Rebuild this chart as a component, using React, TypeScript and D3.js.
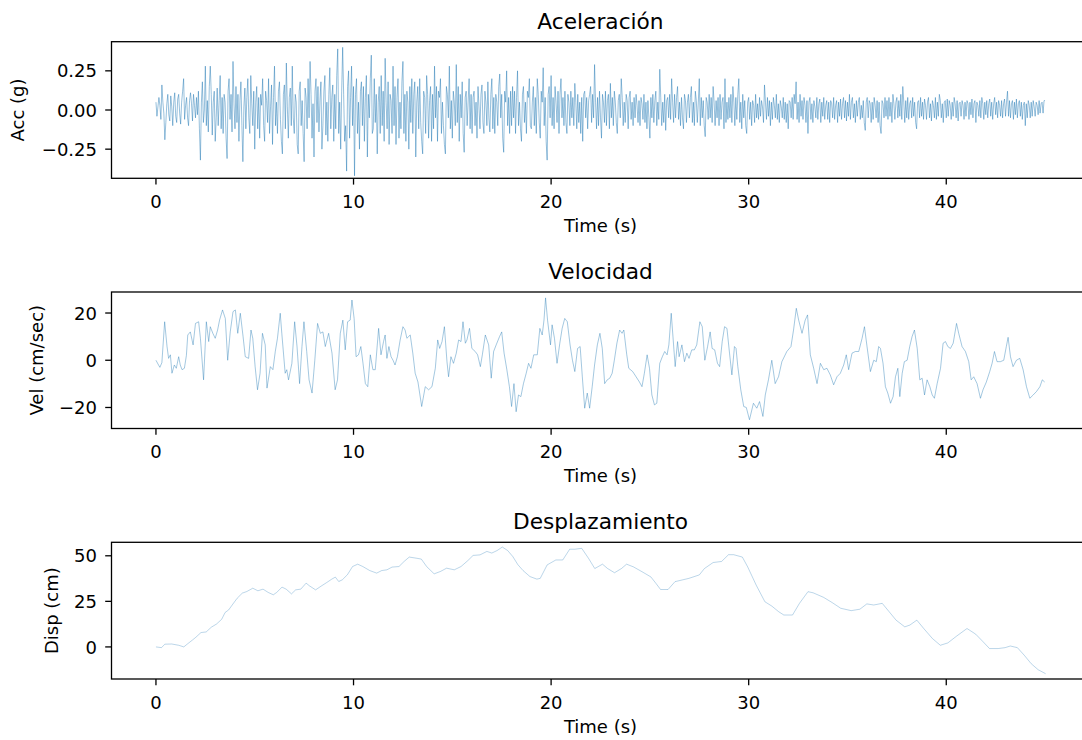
import React from 'react';
import * as d3 from 'd3';

const timeTicks = [0, 10, 20, 30, 40];
const accTicks = [-0.25, 0, 0.25];
const velTicks = [-20, 0, 20];
const dispTicks = [0, 25, 50];

const accDt = 0.05;
const accValues = [
  0.05, -0.04, 0.02, 0.08, 0.03, -0.06, 0.16, 0.05, -0.02, -0.19, -0.08, 0.04, 0.1, -0.03, -0.07, 0.09, 0.02, -0.1, 0.05, 0.11,
  -0.04, -0.08, 0.07, 0.1, -0.02, -0.09, 0.05, 0.12, 0.2, -0.06, 0.03, 0.08, -0.05, -0.1, 0.06, 0.11, 0.04, -0.07, 0.1, 0.03,
  -0.05, 0.08, -0.03, 0.12, -0.12, -0.32, 0.05, 0.18, -0.08, 0.0, 0.28, -0.1, 0.06, -0.14, 0.15, 0.28, 0.1, -0.16, 0.05, 0.12,
  -0.2, -0.05, 0.14, -0.1, 0.06, 0.22, -0.12, 0.08, -0.15, 0.1, 0.05, -0.18, -0.31, 0.12, 0.2, -0.06, 0.1, -0.14, 0.31, 0.04,
  -0.12, 0.15, -0.08, 0.1, -0.2, 0.06, 0.18, -0.1, -0.33, 0.02, 0.14, -0.12, 0.08, 0.2, -0.05, -0.15, 0.22, 0.04, -0.1, 0.12,
  -0.25, 0.05, 0.15, -0.12, 0.08, -0.18, 0.1, 0.03, 0.2, -0.1, -0.2, 0.12, 0.06, -0.08, 0.2, -0.15, 0.02, 0.16, -0.22, 0.08,
  0.28, -0.1, 0.05, -0.15, 0.12, 0.18, -0.06, -0.2, -0.28, 0.1, 0.16, -0.12, 0.3, 0.02, -0.18, 0.08, 0.14, -0.1, 0.28, -0.05,
  -0.15, 0.1, 0.05, -0.22, -0.28, 0.12, 0.18, -0.1, 0.06, -0.15, -0.33, 0.14, 0.08, -0.12, 0.2, -0.05, 0.31, 0.1, -0.18, 0.04,
  -0.3, 0.12, 0.2, -0.08, 0.15, -0.14, 0.06, 0.18, -0.25, -0.1, 0.12, 0.22, -0.16, 0.05, -0.2, 0.1, 0.27, -0.12, 0.08, 0.16,
  -0.2, 0.1, -0.12, 0.22, 0.39, -0.15, 0.05, -0.25, 0.12, 0.4, 0.1, -0.2, -0.1, -0.39, 0.15, 0.25, -0.18, 0.08, 0.28, -0.1,
  0.15, -0.42, 0.1, 0.2, -0.15, 0.05, -0.25, 0.12, 0.18, -0.1, 0.15, -0.2, 0.08, 0.22, -0.3, 0.1, -0.05, 0.2, 0.35, -0.15,
  -0.12, 0.2, -0.08, 0.1, -0.28, 0.05, 0.15, -0.15, 0.22, -0.1, 0.12, -0.2, 0.33, 0.05, -0.12, 0.18, -0.22, 0.1, 0.06, -0.15,
  0.28, -0.1, 0.15, -0.22, 0.08, 0.2, -0.18, 0.05, -0.12, 0.18, 0.31, -0.15, 0.1, -0.2, 0.12, 0.05, -0.25, 0.15, -0.08, 0.2,
  -0.15, 0.1, 0.18, -0.3, 0.05, 0.15, -0.12, 0.2, -0.08, -0.2, -0.28, 0.12, 0.08, -0.15, 0.22, 0.1, -0.18, 0.06, 0.15, -0.2,
  0.1, -0.12, 0.28, -0.05, 0.15, -0.2, 0.12, 0.08, 0.2, -0.15, 0.05, -0.1, -0.22, -0.28, 0.15, 0.1, -0.05, 0.28, -0.12, 0.06,
  -0.18, 0.12, 0.05, -0.1, 0.29, -0.08, 0.15, -0.2, 0.1, -0.05, 0.18, -0.15, -0.27, 0.08, 0.12, -0.1, 0.05, 0.2, -0.12, 0.1,
  -0.15, 0.08, 0.12, -0.1, 0.05, -0.18, 0.15, 0.02, -0.12, 0.1, 0.16, -0.08, -0.15, 0.12, 0.05, -0.1, 0.18, -0.05, -0.14, 0.1,
  0.2, -0.12, 0.08, -0.15, 0.1, 0.05, -0.1, 0.15, 0.23, -0.05, 0.1, -0.18, -0.27, 0.12, 0.05, 0.25, -0.1, 0.08, -0.15, 0.12,
  -0.1, 0.15, -0.05, 0.12, -0.15, 0.08, 0.25, -0.1, 0.05, -0.12, -0.2, 0.1, 0.15, -0.08, 0.05, -0.15, 0.12, 0.08, 0.2, -0.1,
  -0.12, 0.05, 0.15, -0.1, 0.08, -0.15, 0.2, 0.1, -0.08, -0.18, 0.12, 0.05, 0.27, -0.1, 0.08, -0.2, -0.32, 0.1, 0.15, -0.05,
  0.22, -0.1, 0.08, -0.12, 0.15, 0.05, -0.08, 0.12, -0.15, 0.1, 0.2, -0.05, 0.08, -0.1, 0.12, -0.08, -0.15, 0.1, 0.05, -0.1,
  0.12, -0.05, 0.08, -0.1, 0.17, 0.05, -0.12, 0.1, -0.08, 0.05, -0.15, 0.08, -0.2, 0.1, 0.12, -0.05, 0.08, -0.12, 0.06, 0.1,
  0.15, -0.08, 0.1, -0.05, 0.29, 0.05, -0.12, 0.08, -0.1, 0.12, -0.05, -0.18, 0.1, 0.05, -0.08, 0.12, -0.1, 0.06, 0.1, -0.12,
  0.17, -0.05, 0.08, -0.1, 0.12, 0.05, -0.08, -0.15, 0.06, 0.1, -0.05, 0.2, 0.08, -0.1, 0.05, -0.08, 0.1, 0.06, -0.12, 0.08,
  0.12, -0.06, 0.05, -0.1, 0.08, -0.05, 0.1, 0.03, -0.08, 0.06, -0.1, 0.08, 0.04, -0.06, 0.1, -0.08, 0.05, -0.12, 0.06, -0.05,
  -0.18, 0.08, -0.05, 0.1, -0.08, 0.06, 0.12, -0.1, 0.05, -0.06, 0.26, 0.08, -0.1, 0.05, -0.08, 0.1, -0.13, 0.06, 0.08, -0.05,
  0.1, -0.06, 0.2, 0.05, -0.08, 0.1, -0.05, 0.08, 0.15, -0.06, 0.05, -0.1, 0.08, -0.05, -0.12, 0.1, 0.06, -0.08, 0.05, 0.1,
  -0.05, 0.08, 0.15, -0.08, 0.05, -0.1, 0.12, 0.06, -0.08, 0.05, 0.2, -0.1, 0.08, -0.05, 0.06, -0.1, -0.17, 0.08, 0.05, -0.06,
  0.1, -0.05, 0.08, -0.08, 0.15, 0.05, -0.1, 0.06, -0.05, 0.08, -0.1, 0.1, -0.06, 0.05, 0.08, -0.12, 0.2, -0.08, 0.05, -0.06,
  0.08, -0.05, 0.1, -0.08, 0.15, 0.05, -0.1, 0.08, -0.06, 0.1, 0.2, -0.08, 0.05, -0.12, 0.1, -0.05, 0.06, -0.1, -0.15, 0.05,
  0.08, -0.06, 0.05, -0.1, 0.06, 0.03, -0.08, 0.1, -0.05, 0.04, -0.06, 0.08, -0.04, 0.06, 0.02, -0.08, 0.16, 0.05, -0.06, 0.08,
  -0.04, 0.06, -0.1, 0.05, -0.06, 0.08, 0.03, -0.05, 0.1, -0.06, 0.04, -0.08, 0.06, 0.02, -0.05, 0.08, -0.06, 0.05, -0.08, 0.04,
  -0.12, 0.06, 0.05, -0.05, 0.08, -0.06, 0.1, 0.04, 0.18, -0.06, 0.05, -0.08, 0.1, -0.04, 0.06, -0.06, 0.08, 0.03, -0.08, 0.06,
  -0.15, 0.05, 0.08, -0.06, 0.04, -0.08, 0.06, 0.02, -0.05, 0.08, -0.06, 0.04, 0.07, -0.08, 0.05, -0.04, 0.08, -0.06, 0.03, 0.06,
  -0.06, 0.05, -0.08, 0.06, 0.04, -0.05, 0.08, -0.06, 0.03, 0.06, -0.08, 0.05, -0.04, 0.07, -0.06, 0.04, 0.08, -0.05, 0.06, -0.07,
  0.05, -0.04, 0.1, -0.06, 0.05, 0.08, -0.05, 0.04, -0.08, 0.06, -0.04, 0.05, 0.08, -0.06, 0.03, -0.05, 0.06, -0.08, -0.13, 0.05,
  0.08, -0.05, 0.06, 0.04, -0.08, 0.05, -0.06, 0.08, 0.03, -0.05, 0.06, -0.08, 0.05, -0.1, -0.15, 0.06, 0.04, -0.05, 0.08, -0.04,
  0.06, -0.06, 0.08, -0.04, 0.05, -0.08, 0.1, 0.04, -0.06, 0.05, 0.08, -0.05, 0.06, -0.04, 0.1, -0.06, 0.15, 0.05, -0.08, 0.06,
  -0.05, 0.08, -0.06, 0.04, 0.06, -0.05, 0.08, -0.04, 0.05, -0.08, -0.12, 0.05, 0.06, -0.05, 0.08, -0.04, 0.05, -0.06, 0.07, 0.03,
  -0.06, 0.05, 0.08, -0.05, 0.04, -0.07, 0.06, 0.03, -0.05, 0.08, -0.06, 0.05, -0.04, 0.1, 0.06, -0.05, 0.04, -0.08, 0.05, 0.06,
  -0.05, 0.07, -0.04, 0.06, 0.03, -0.06, 0.05, -0.04, 0.08, 0.04, -0.05, 0.06, -0.07, 0.04, 0.05, -0.04, 0.06, 0.03, -0.06, 0.05,
  -0.04, 0.06, 0.04, -0.06, 0.05, -0.03, 0.07, -0.05, 0.04, 0.06, -0.08, 0.05, 0.03, -0.04, 0.06, -0.05, 0.08, 0.04, -0.06, 0.05,
  -0.03, 0.06, -0.05, 0.04, 0.07, -0.04, 0.05, -0.06, 0.04, 0.08, -0.03, 0.05, -0.05, 0.06, 0.03, -0.04, 0.06, -0.05, 0.04, 0.07,
  -0.04, 0.05, 0.12, -0.04, 0.06, -0.05, 0.04, 0.06, -0.06, 0.05, -0.03, 0.07, -0.05, 0.04, 0.06, -0.04, 0.05, -0.06, 0.03, 0.05,
  -0.1, 0.04, -0.05, 0.06, 0.03, -0.05, 0.05, -0.04, 0.06, 0.02, -0.04, 0.05, 0.03, -0.03, 0.06, -0.02, 0.04, 0.05, -0.02, 0.06,
  0.06,
];

const velTime = [
  0, 0.13, 0.2, 0.3, 0.44, 0.56, 0.64, 0.73, 0.81, 0.93, 1.03, 1.15, 1.23, 1.32, 1.44, 1.54, 1.61, 1.74, 1.88, 2.0,
  2.16, 2.25, 2.41, 2.55, 2.67, 2.75, 2.88, 3.0, 3.12, 3.22, 3.37, 3.51, 3.63, 3.76, 3.9, 4.02, 4.14, 4.27, 4.41, 4.52,
  4.69, 4.81, 4.9, 5.02, 5.14, 5.27, 5.39, 5.53, 5.62, 5.79, 5.92, 6.04, 6.15, 6.29, 6.37, 6.54, 6.62, 6.71, 6.88, 7.02,
  7.14, 7.27, 7.39, 7.49, 7.63, 7.75, 7.9, 8.04, 8.18, 8.32, 8.45, 8.57, 8.74, 8.91, 9.07, 9.19, 9.33, 9.46, 9.58, 9.7,
  9.83, 9.92, 10.03, 10.13, 10.25, 10.37, 10.48, 10.6, 10.72, 10.85, 10.98, 11.1, 11.27, 11.39, 11.52, 11.6, 11.69, 11.79, 11.9, 12.0,
  12.1, 12.22, 12.36, 12.5, 12.61, 12.7, 12.87, 13.0, 13.12, 13.26, 13.45, 13.63, 13.8, 13.97, 14.14, 14.26, 14.36, 14.48, 14.6, 14.73,
  14.81, 14.93, 15.06, 15.2, 15.32, 15.44, 15.54, 15.66, 15.74, 15.87, 15.99, 16.16, 16.28, 16.42, 16.52, 16.67, 16.84, 16.97, 17.09, 17.22,
  17.39, 17.5, 17.62, 17.76, 17.89, 18.0, 18.12, 18.23, 18.35, 18.47, 18.6, 18.74, 18.86, 18.98, 19.12, 19.3, 19.43, 19.55, 19.64, 19.72,
  19.82, 19.97, 20.05, 20.17, 20.3, 20.44, 20.56, 20.69, 20.82, 20.96, 21.08, 21.2, 21.34, 21.47, 21.58, 21.7, 21.83, 21.95, 22.08, 22.2,
  22.34, 22.47, 22.59, 22.71, 22.84, 22.97, 23.09, 23.2, 23.33, 23.47, 23.59, 23.68, 23.83, 23.93, 24.13, 24.3, 24.47, 24.6, 24.72, 24.86,
  24.98, 25.1, 25.23, 25.35, 25.5, 25.63, 25.75, 25.87, 25.96, 26.08, 26.18, 26.28, 26.4, 26.48, 26.62, 26.75, 26.87, 26.98, 27.12, 27.25,
  27.37, 27.53, 27.65, 27.78, 27.92, 28.05, 28.15, 28.28, 28.42, 28.53, 28.66, 28.78, 28.9, 29.03, 29.15, 29.28, 29.36, 29.45, 29.6, 29.75,
  29.88, 30.04, 30.24, 30.41, 30.55, 30.72, 30.84, 31.0, 31.17, 31.34, 31.51, 31.68, 31.93, 32.14, 32.27, 32.41, 32.53, 32.7, 32.86, 32.98,
  33.12, 33.29, 33.46, 33.63, 33.8, 33.96, 34.13, 34.3, 34.47, 34.64, 34.81, 34.94, 35.06, 35.23, 35.4, 35.57, 35.74, 35.86, 35.99, 36.16,
  36.33, 36.46, 36.58, 36.67, 36.8, 36.92, 37.04, 37.18, 37.31, 37.43, 37.55, 37.65, 37.77, 37.88, 38.02, 38.15, 38.27, 38.39, 38.53, 38.66,
  38.78, 38.9, 39.03, 39.17, 39.29, 39.4, 39.54, 39.71, 39.84, 39.96, 40.08, 40.21, 40.35, 40.52, 40.63, 40.8, 40.97, 41.14, 41.26, 41.39,
  41.56, 41.73, 41.86, 42.03, 42.2, 42.32, 42.44, 42.57, 42.74, 42.91, 43.04, 43.13, 43.25, 43.38, 43.55, 43.72, 43.89, 44.06, 44.23, 44.4,
  44.57, 44.74, 44.86, 44.98,
];
const velValues = [
  0, -2, -3, -1, 16.3, 5.8, 0.8, 2.3, -5.5, -2, -3.4, 1.5, -2, -4, -3.4, 2, 10.7, 12, 6.5, 15.6,
  16.3, 9.3, -8.3, 16.3, 7.9, 14.2, 11.4, 9.3, 12.8, 17, 21.3, 17.7, 0, 12, 20.6, 21.3, 11.4, 19.9, 10, 1.5,
  0.8, 12.8, 9.3, -2.7, -12.5, -5.5, 11.4, 6.5, -11.8, -2.7, -4, 3.7, 9.3, 19.9, 11.4, -5.5, -4, -8.3, -1.3, 16.3,
  5.8, -9.9, 5.8, 16.3, 3.7, -8.3, -13.9, 0, 15.6, 11.4, 12, 5.8, 11.4, 3, -12.5, -8.3, 11.4, 17, 4.4, 16.3,
  17, 25.5, 17.7, 1.5, 2.3, 5.8, -1.3, -9.9, -11.2, 2.3, -4, -4, 13.5, 2.3, 7.9, 10.7, 0.8, 5.8, 1.5, 0,
  -2, 1.5, 8.6, 14.2, 12.8, 9.3, 10.7, 3, -5.5, -9.2, -19.6, -11.2, -12.5, -11.2, -3.4, 8.6, 5, 7.9, 14.2, -0.6,
  -7, 1.5, -1.3, 3, 8.6, 7.9, 16.3, 7.2, 8.6, 13.5, 5, 3.7, 2.3, -2.7, 2.3, 10.7, 6.5, -7.6, 3.7, 6.5,
  10, 12, 3, -4, -11.2, -19.6, -9.9, -21.8, -14.7, -15.4, -9.9, -5.5, -1.3, -3.4, 2.3, 2.3, 13.5, 10.7, 17, 26.4,
  17, 6.5, 15, 9.3, -1.3, 7.2, 13.5, 17.7, 16.3, 6.5, 0, -4.8, 5, 5.8, -7, -20.3, -13.9, -20.3, -11.2, -2,
  6.5, 11.4, 5, -9.9, -8.3, -7.6, -5.5, 0, 7.2, 12.8, 11.4, 12.8, 2.3, -3.4, -4.8, -7, -9.2, -11.2, -5.5, 2.3,
  -3.4, -14.7, -18.9, -18.2, -1.3, 1.5, 3.7, 2.3, 6.5, 19.9, 8.6, -2.7, 7.9, 1.5, 6.5, -0.6, 3, 0.8, 4.4, 4.4,
  6.5, 16.3, 14.2, 0, 5.8, 12, 5, 4.4, -1.3, -2.7, 7.9, 14.2, 13.5, 3, -6.2, 5.8, 5, -2.7, -12.5, -19.6,
  -20, -25.2, -18.2, -20.3, -17.5, -23.8, -14.7, -8.3, 0, -9.9, -7, -0.6, 3.7, 5.8, 12.8, 22, 17, 11.4, 17, 19.2,
  2.3, -3.4, -9.9, -1.3, -4, -3.4, -6.2, -10.4, -7, -5.5, -2, 2.3, -4, 3, 3.7, 3.7, 9.3, 14.2, 5.8, -4.8,
  0, -0.6, 5.8, 5, -1.3, -11.2, -13.9, -18.2, -15.4, -7, -3.4, -15.4, -5.5, -0.6, 0, 5.8, 10, 12.8, 5, -8.3,
  -7.6, -14.7, -8.3, -11.2, -14.7, -16.1, -9.9, -3.4, 7.2, 7.9, 5.8, 5, 7.2, 15.6, 11.4, 5.8, 3.7, -0.6, -8.3, -7,
  -9.9, -16.1, -12.5, -9.2, -4.8, -1.3, 3.7, -0.6, -0.6, 0, 5.8, 9.7, 1.5, -2.7, 0, 0.8, -4, -11.2, -16.1, -14.7,
  -13.2, -11.2, -8.3, -9.2,
];

const dispTime = [
  0, 0.28, 0.45, 0.8, 1.15, 1.41, 1.59, 1.85, 2.02, 2.28, 2.54, 2.8, 3.07, 3.33, 3.5, 3.68, 3.9, 4.11, 4.37, 4.6,
  4.9, 5.16, 5.42, 5.68, 5.94, 6.11, 6.38, 6.59, 6.86, 7.07, 7.33, 7.6, 7.77, 8.08, 8.38, 8.64, 8.9, 9.08, 9.25, 9.43,
  9.69, 9.95, 10.21, 10.47, 10.82, 11.17, 11.43, 11.69, 11.95, 12.3, 12.56, 12.82, 13.17, 13.43, 13.7, 14.08, 14.4, 14.71, 15.1, 15.44,
  15.79, 16.05, 16.4, 16.75, 17.0, 17.27, 17.53, 17.8, 18.06, 18.32, 18.58, 18.93, 19.28, 19.45, 19.8, 20.24, 20.59, 20.94, 21.2, 21.55,
  21.9, 22.21, 22.6, 22.86, 23.21, 23.56, 23.82, 24.17, 24.61, 25.05, 25.31, 25.54, 25.92, 26.27, 26.62, 26.97, 27.5, 27.76, 28.2, 28.63,
  28.98, 29.24, 29.68, 29.95, 30.38, 30.82, 31.17, 31.52, 31.78, 32.22, 32.57, 33.0, 33.26, 33.79, 34.23, 34.66, 35.19, 35.63, 35.98, 36.33,
  36.76, 37.11, 37.46, 37.9, 38.16, 38.51, 38.86, 39.3, 39.7, 40.08, 40.52, 41.05, 41.49, 41.84, 42.19, 42.63, 42.98, 43.24, 43.6, 43.95,
  44.3, 44.65, 45.03,
];
const dispValues = [
  0, -0.4, 1.5, 1.6, 0.9, 0, 1.6, 3.8, 5.3, 7.9, 8.2, 10.8, 12.6, 15.2, 18.9, 20.3, 23.6, 26.7, 29.5, 30.4,
  32.2, 30.8, 31.7, 29.9, 28.6, 29.9, 32.8, 31.7, 29.1, 31.3, 31.7, 35, 33.5, 31.3, 33.5, 35.3, 37.2, 38.3, 35.9, 36.8,
  39.6, 44.1, 45.4, 44.1, 41.9, 40.5, 41.9, 42.3, 43.8, 44.1, 46.9, 49.3, 48.7, 48.2, 44.1, 40.1, 41.4, 43.2, 42.3, 44.1,
  47.4, 50.2, 50.5, 52.4, 51.5, 52.9, 54.8, 52.9, 49.6, 45.1, 41.9, 38.6, 37.2, 37.6, 45, 47.7, 47.7, 53.6, 53.6, 54.1,
  48.5, 43, 45.4, 43, 40.7, 43, 45.4, 43.9, 41.2, 38.4, 34.8, 31.5, 31.5, 35.8, 36.7, 37.6, 39.5, 43, 46.3, 46.9,
  50.6, 50.6, 49.3, 43.9, 33.9, 24.8, 22.4, 19.3, 17.5, 17.5, 23.9, 30.3, 29.7, 27.2, 24.3, 21.2, 19.9, 20.7, 23.6, 23,
  23.9, 19.3, 14.7, 11, 12, 14.7, 10.1, 4.6, 0.9, 2.2, 5.9, 10.1, 7, 3.1, -0.9, -0.9, -0.4, 0.5, -0.4, -4.6,
  -9.2, -12.5, -14.7,
];

const FONT = 'DejaVu Sans, Verdana, sans-serif';
const LINE = '#1f77b4';
const W = 1082;
const H = 740;
const X_LEFT = 111.5;
const X_RIGHT = 1089.5;

const xScale = d3.scaleLinear().domain([-2.25, 47.25]).range([X_LEFT, X_RIGHT]);

type Panel = {
  key: string;
  title: string;
  ylabel: string;
  top: number;
  bottom: number;
  domain: [number, number];
  ticks: number[];
  fmt: (v: number) => string;
  ylabelX: number;
  width: number;
  opacity: number;
  t: number[];
  v: number[];
};

const accTime = accValues.map((_, i) => i * accDt);

const panels: Panel[] = [
  {
    key: 'acc', title: 'Aceleración', ylabel: 'Acc (g)', top: 41.7, bottom: 178.3,
    domain: [-0.436, 0.436], ticks: accTicks, fmt: d3.format('.2f'), ylabelX: 24,
    width: 0.55, opacity: 0.85, t: accTime, v: accValues,
  },
  {
    key: 'vel', title: 'Velocidad', ylabel: 'Vel (cm/sec)', top: 292.0, bottom: 428.5,
    domain: [-28.9, 28.9], ticks: velTicks, fmt: d3.format('d'), ylabelX: 43,
    width: 0.55, opacity: 0.75, t: velTime, v: velValues,
  },
  {
    key: 'disp', title: 'Desplazamiento', ylabel: 'Disp (cm)', top: 542.3, bottom: 679,
    domain: [-17.6, 57.4], ticks: dispTicks, fmt: d3.format('d'), ylabelX: 58,
    width: 0.5, opacity: 0.6, t: dispTime, v: dispValues,
  },
];

function PanelView({ p }: { p: Panel }) {
  const y = d3.scaleLinear().domain(p.domain).range([p.bottom, p.top]);
  const line = d3.line<number>()
    .x((_, i) => xScale(p.t[i]))
    .y((d) => y(d));
  const path = line(p.v) || '';
  const cx = (X_LEFT + X_RIGHT) / 2;
  const cy = (p.top + p.bottom) / 2;
  return (
    <g>
      <defs>
        <clipPath id={`clip-${p.key}`}>
          <rect x={X_LEFT} y={p.top} width={X_RIGHT - X_LEFT} height={p.bottom - p.top} />
        </clipPath>
      </defs>
      <path d={path} fill="none" stroke={LINE} strokeWidth={p.width} strokeOpacity={p.opacity}
        strokeLinejoin="round" clipPath={`url(#clip-${p.key})`} />
      <rect x={X_LEFT} y={p.top} width={X_RIGHT - X_LEFT} height={p.bottom - p.top}
        fill="none" stroke="#000" strokeWidth={1.3} />
      {timeTicks.map((t) => (
        <g key={`x${t}`}>
          <line x1={xScale(t)} x2={xScale(t)} y1={p.bottom} y2={p.bottom + 6.3} stroke="#000" strokeWidth={1.3} />
          <text x={xScale(t)} y={p.bottom + 29.7} textAnchor="middle" fontSize={18} fontFamily={FONT} fill="#000">
            {t}
          </text>
        </g>
      ))}
      {p.ticks.map((v) => (
        <g key={`y${v}`}>
          <line x1={X_LEFT - 6.3} x2={X_LEFT} y1={y(v)} y2={y(v)} stroke="#000" strokeWidth={1.3} />
          <text x={X_LEFT - 14.5} y={y(v) + 6.6} textAnchor="end" fontSize={18} fontFamily={FONT} fill="#000">
            {p.fmt(v)}
          </text>
        </g>
      ))}
      <text x={cx} y={p.top - 13.2} textAnchor="middle" fontSize={21.7} fontFamily={FONT} fill="#000">
        {p.title}
      </text>
      <text x={cx} y={p.bottom + 53.5} textAnchor="middle" fontSize={18} fontFamily={FONT} fill="#000">
        Time (s)
      </text>
      <text transform={`translate(${p.ylabelX},${cy}) rotate(-90)`} textAnchor="middle" fontSize={18}
        fontFamily={FONT} fill="#000">
        {p.ylabel}
      </text>
    </g>
  );
}

export default function App() {
  return (
    <svg width={W} height={H} viewBox={`0 0 ${W} ${H}`}
      style={{ position: 'absolute', left: 0, top: 0, background: '#fff' }}>
      <rect x={0} y={0} width={W} height={H} fill="#fff" />
      {panels.map((p) => <PanelView key={p.key} p={p} />)}
    </svg>
  );
}
